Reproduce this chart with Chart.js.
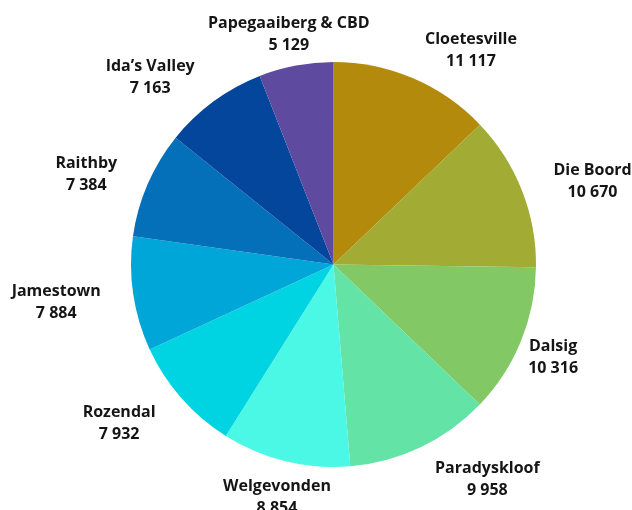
<!DOCTYPE html>
<html>
<head>
<meta charset="utf-8">
<script src="https://cdn.jsdelivr.net/npm/chart.js@4/dist/chart.umd.min.js"></script>
<style>
  html, body { margin: 0; padding: 0; background: #ffffff; }
  #wrap { width: 632px; height: 510px; }
</style>
</head>
<body>
<div id="wrap"><canvas id="c" width="632" height="510"></canvas></div>
<script>
const categories = ["Cloetesville", "Die Boord", "Dalsig", "Paradyskloof", "Welgevonden",
                    "Rozendal", "Jamestown", "Raithby", "Ida\u2019s Valley", "Papegaaiberg & CBD"];
const values = [11117, 10670, 10316, 9958, 8854, 7932, 7884, 7384, 7163, 5129];
const sliceColors = ["#B38A0C", "#A2AB33", "#82C965", "#63E3A5", "#4BF8E5",
                     "#00D4E3", "#00A6D7", "#0570BA", "#03469B", "#5E4B9F"];

// small per-label nudges (px) applied after geometric placement
const labelNudge = [[35, 1], [23, 1], [-2, 1], [39, -1], [7, 1], [-26, 1], [-21, 1], [-22, 2], [-30, 2], [10, 0]];

function fmt(n) {
  return String(n).replace(/\B(?=(\d{3})+(?!\d))/g, " ");
}

const outsideLabels = {
  id: "outsideLabels",
  afterDatasetsDraw(chart) {
    const ctx = chart.ctx;
    const meta = chart.getDatasetMeta(0);
    ctx.save();
    ctx.font = "bold 16px 'Open Sans'";
    ctx.fillStyle = "#151515";
    ctx.textAlign = "center";
    ctx.textBaseline = "middle";
    meta.data.forEach((arc, i) => {
      const p = arc.getProps(["x", "y", "startAngle", "endAngle", "outerRadius"], true);
      const mid = (p.startAngle + p.endAngle) / 2;
      const dx = Math.cos(mid), dy = Math.sin(mid);
      const l1 = categories[i], l2 = fmt(values[i]);
      const hw = Math.max(ctx.measureText(l1).width, ctx.measureText(l2).width) / 2;
      const hh = 22;
      const rr = p.outerRadius + 12;
      const cx = p.x + rr * dx + hw * dx + labelNudge[i][0];
      const cy = p.y + rr * dy + hh * dy + labelNudge[i][1];
      ctx.fillText(l1, cx, cy - 9);
      ctx.fillText(l2, cx, cy + 13);
    });
    ctx.restore();
  }
};

new Chart(document.getElementById("c"), {
  type: "pie",
  data: {
    labels: categories,
    datasets: [{
      data: values,
      backgroundColor: sliceColors,
      borderWidth: 0
    }]
  },
  options: {
    responsive: false,
    animation: false,
    layout: { padding: { left: 131, right: 96, top: 62, bottom: 43 } },
    plugins: {
      legend: { display: false },
      tooltip: { enabled: false }
    }
  },
  plugins: [outsideLabels]
});
</script>
</body>
</html>
